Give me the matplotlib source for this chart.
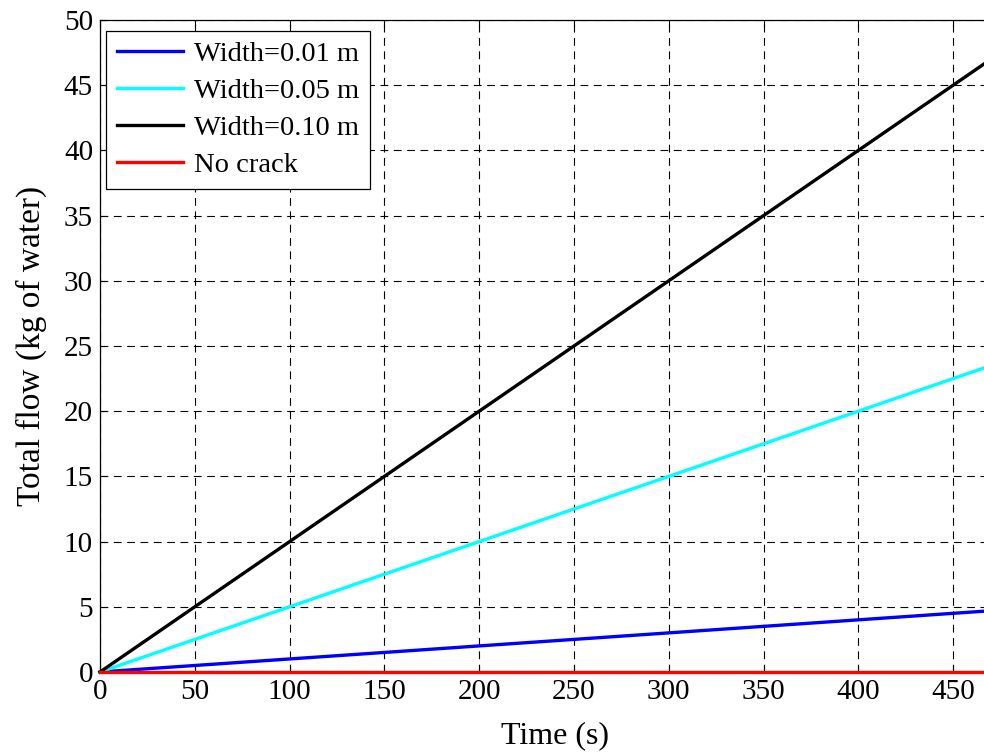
import numpy as np
import matplotlib
matplotlib.use("Agg")
import matplotlib.pyplot as plt
from matplotlib.transforms import offset_copy

# values (time in s, flow in kg)
time = [0, 25, 50, 75, 100, 150, 200, 250, 300, 350, 400, 450, 480]
flow_w001 = [0, 0.25, 0.5, 0.75, 1.0, 1.5, 2.0, 2.5, 3.0, 3.5, 4.0, 4.5, 4.8]
flow_w005 = [0, 1.25, 2.5, 3.75, 5.0, 7.5, 10.0, 12.5, 15.0, 17.5, 20.0, 22.5, 24.0]
flow_w010 = [0, 2.5, 5.0, 7.5, 10.0, 15.0, 20.0, 25.0, 30.0, 35.0, 40.0, 45.0, 48.0]
flow_nocrack = [0, 0, 0, 0, 0, 0, 0, 0, 0, 0, 0, 0, 0]

labels = ["Width=0.01 m", "Width=0.05 m", "Width=0.10 m", "No crack"]
colors = ["#0000ff", "#00ffff", "#000000", "#ff0000"]

plt.rcParams['font.family'] = ['Liberation Serif', 'DejaVu Serif']

fig = plt.figure(figsize=(9.84, 7.53), dpi=100)
# axes run past the right edge of the figure, as in the reference
ax = fig.add_axes([100 / 984, 81 / 753, 910 / 984, 652 / 753])

series = [flow_w001, flow_w005, flow_w010, flow_nocrack]
for vals, lab, col in zip(series, labels, colors):
	ax.plot(time, vals, color=col, lw=2.4, label=lab, clip_on=False, zorder=3)

ax.set_xlim(0, 480)
ax.set_ylim(0, 50)
ax.set_xticks(np.arange(0, 451, 50))
ax.set_yticks(np.arange(0, 51, 5))
ax.tick_params(direction='in', top=True, right=True, labelsize=21, length=5, width=0.8, pad=5)
ax.grid(True, color='black', linestyle=(0, (7, 5)), linewidth=0.8)
for s in ax.spines.values():
	s.set_linewidth(0.9)

ax.set_xlabel("Time (s)", fontsize=23, labelpad=12)
ax.set_ylabel("Total flow (kg of water)", fontsize=24, labelpad=12)

# legend box placed a few pixels inside the top left corner
anchor = offset_copy(ax.transAxes, fig=fig, x=5.7, y=-10.7, units='dots')
leg = ax.legend(loc='upper left', bbox_to_anchor=(0, 1), bbox_transform=anchor,
	fontsize=20.5, fancybox=False, framealpha=1, edgecolor='black',
	handlelength=2.35, borderaxespad=0, labelspacing=0.38,
	handletextpad=0.38, borderpad=0.38)
leg.get_frame().set_linewidth(0.9)
for h in leg.get_lines():
	h.set_linewidth(2.4)

fig.savefig("out.png", dpi=100)
